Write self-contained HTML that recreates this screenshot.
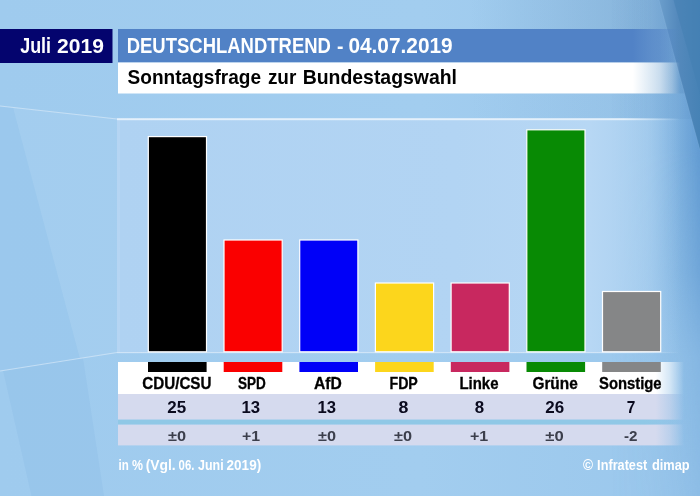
<!DOCTYPE html>
<html>
<head>
<meta charset="utf-8">
<title>DeutschlandTrend</title>
<style>
html,body{margin:0;padding:0;background:#9ecbee;}
body{width:700px;height:496px;overflow:hidden;font-family:"Liberation Sans",sans-serif;}
svg{display:block;}
text{font-family:"Liberation Sans",sans-serif;font-weight:bold;}
</style>
</head>
<body>
<svg width="700" height="496" viewBox="0 0 700 496">
  <defs>
    <linearGradient id="bg" x1="0" y1="0" x2="1" y2="0">
      <stop offset="0" stop-color="#9fcbee"/>
      <stop offset="0.6" stop-color="#a2cdef"/>
      <stop offset="1" stop-color="#9ac7ec"/>
    </linearGradient>
    <linearGradient id="panel" x1="0" y1="0" x2="1" y2="0">
      <stop offset="0" stop-color="#afd2f2"/>
      <stop offset="0.6" stop-color="#b2d4f3"/>
      <stop offset="0.84" stop-color="#b7d7f4"/>
      <stop offset="0.94" stop-color="#b5d6f3" stop-opacity="0.5"/>
      <stop offset="1" stop-color="#b3d5f3" stop-opacity="0"/>
    </linearGradient>
    <linearGradient id="hdr" gradientUnits="userSpaceOnUse" x1="118" y1="0" x2="680" y2="0">
      <stop offset="0" stop-color="#5182c6"/>
      <stop offset="0.916" stop-color="#5182c6"/>
      <stop offset="0.964" stop-color="#5182c6" stop-opacity="0.6"/>
      <stop offset="0.986" stop-color="#5182c6" stop-opacity="0.28"/>
      <stop offset="1" stop-color="#5182c6" stop-opacity="0"/>
    </linearGradient>
    <linearGradient id="wht" gradientUnits="userSpaceOnUse" x1="118" y1="0" x2="680" y2="0">
      <stop offset="0" stop-color="#ffffff"/>
      <stop offset="0.916" stop-color="#ffffff"/>
      <stop offset="0.964" stop-color="#ffffff" stop-opacity="0.6"/>
      <stop offset="0.986" stop-color="#ffffff" stop-opacity="0.28"/>
      <stop offset="1" stop-color="#ffffff" stop-opacity="0"/>
    </linearGradient>
    <linearGradient id="wht2" gradientUnits="userSpaceOnUse" x1="118" y1="0" x2="684" y2="0">
      <stop offset="0" stop-color="#ffffff"/>
      <stop offset="0.95" stop-color="#ffffff"/>
      <stop offset="0.975" stop-color="#ffffff" stop-opacity="0.6"/>
      <stop offset="1" stop-color="#ffffff" stop-opacity="0"/>
    </linearGradient>
    <linearGradient id="lav" gradientUnits="userSpaceOnUse" x1="118" y1="0" x2="684" y2="0">
      <stop offset="0" stop-color="#d5daee"/>
      <stop offset="0.95" stop-color="#d5daee"/>
      <stop offset="0.975" stop-color="#d5daee" stop-opacity="0.6"/>
      <stop offset="1" stop-color="#d5daee" stop-opacity="0"/>
    </linearGradient>
    <linearGradient id="line" gradientUnits="userSpaceOnUse" x1="118" y1="0" x2="680" y2="0">
      <stop offset="0" stop-color="#e4f0fb"/>
      <stop offset="0.9" stop-color="#e4f0fb"/>
      <stop offset="1" stop-color="#e4f0fb" stop-opacity="0"/>
    </linearGradient>
    <linearGradient id="topdark" gradientUnits="userSpaceOnUse" x1="470" y1="0" x2="670" y2="0">
      <stop offset="0" stop-color="#6290bb" stop-opacity="0"/>
      <stop offset="1" stop-color="#6290bb" stop-opacity="0.4"/>
    </linearGradient>
    <linearGradient id="rightdark" gradientUnits="userSpaceOnUse" x1="610" y1="0" x2="700" y2="0">
      <stop offset="0" stop-color="#3f80c2" stop-opacity="0"/>
      <stop offset="0.45" stop-color="#3f80c2" stop-opacity="0.12"/>
      <stop offset="0.75" stop-color="#3f80c2" stop-opacity="0.32"/>
      <stop offset="1" stop-color="#3f80c2" stop-opacity="0.62"/>
    </linearGradient>
    <linearGradient id="vm" x1="0" y1="0" x2="0" y2="1">
      <stop offset="0" stop-color="#fff"/>
      <stop offset="0.3" stop-color="#fff"/>
      <stop offset="0.55" stop-color="#c0c0c0"/>
      <stop offset="0.72" stop-color="#606060"/>
      <stop offset="1" stop-color="#383838"/>
    </linearGradient>
    <mask id="vmask" maskUnits="userSpaceOnUse" x="0" y="0" width="700" height="496">
      <rect x="0" y="0" width="700" height="496" fill="url(#vm)"/>
    </mask>
    <linearGradient id="wedge1" gradientUnits="userSpaceOnUse" x1="660" y1="0" x2="700" y2="0">
      <stop offset="0" stop-color="#6a9dcb"/>
      <stop offset="0.45" stop-color="#5489bc"/>
      <stop offset="1" stop-color="#4682b5"/>
    </linearGradient>
    <linearGradient id="gap" gradientUnits="userSpaceOnUse" x1="118" y1="0" x2="684" y2="0">
      <stop offset="0" stop-color="#90c8e6"/>
      <stop offset="0.93" stop-color="#90c8e6"/>
      <stop offset="1" stop-color="#90c8e6" stop-opacity="0"/>
    </linearGradient>
  </defs>

  <!-- background -->
  <rect x="0" y="0" width="700" height="496" fill="url(#bg)"/>
  <!-- subtle left streaks -->
  <polygon points="0,106 13,107.5 80,359 0,371" fill="#93c2ea" opacity="0.3"/>
  <polygon points="13,107.5 118,119 118,353 80,359" fill="#abd2f2" opacity="0.35"/>
  <polygon points="3,370.5 83,358 104,496 31.5,496" fill="#8dbee8" opacity="0.38"/>
  <!-- top band darker to right -->
  <rect x="0" y="0" width="700" height="93.5" fill="url(#topdark)"/>
  <rect x="0" y="93.5" width="700" height="25.5" fill="url(#topdark)" opacity="0.35"/>
  <!-- right darkening -->
  <rect x="560" y="0" width="140" height="496" fill="url(#rightdark)" mask="url(#vmask)"/>
  <!-- right dark wedge -->
  <polygon points="659,0 700,0 700,150" fill="url(#wedge1)"/>
  <polygon points="673.5,0 700,0 700,94" fill="#447fb3" opacity="0.55"/>
  <line x1="659" y1="0" x2="700" y2="150" stroke="#a9cdee" stroke-width="1" opacity="0.15"/>

  <!-- chart panel -->
  <rect x="117" y="119" width="563" height="234" fill="url(#panel)"/>
  <rect x="117" y="119" width="3" height="234" fill="#c2ddf5" opacity="0.3"/>
  <rect x="117" y="118.2" width="563" height="2" fill="url(#line)"/>
  <rect x="117" y="352" width="563" height="1.2" fill="url(#line)" opacity="0.6"/>
  <line x1="0" y1="106" x2="117" y2="119" stroke="#d6e8f8" stroke-width="1.2" opacity="0.7"/>
  <line x1="0" y1="371" x2="117" y2="352.5" stroke="#d6e8f8" stroke-width="1.2" opacity="0.7"/>

  <!-- header -->
  <rect x="0" y="29" width="112.5" height="34" fill="#04046e"/>
  <rect x="118" y="29" width="562" height="33.5" fill="url(#hdr)"/>
  <rect x="118" y="62.5" width="562" height="31" fill="url(#wht)"/>
  <!-- table -->
  <rect x="118" y="362" width="566" height="32" fill="url(#wht2)"/>
  <rect x="118" y="394" width="566" height="25.7" fill="url(#lav)"/>
  <rect x="118" y="424.4" width="566" height="21" fill="url(#lav)"/>

  <rect x="118" y="419.7" width="566" height="4.7" fill="url(#gap)"/>
  <!-- bars -->
  <g stroke="#fff" stroke-width="1.2">
    <rect x="148.3" y="136.6" width="58.2" height="215.2" fill="#000000"/>
    <rect x="224" y="240" width="58.2" height="111.8" fill="#fa0000"/>
    <rect x="299.7" y="240" width="58.2" height="111.8" fill="#0000f8"/>
    <rect x="375.4" y="283" width="58.2" height="68.8" fill="#fcd61c"/>
    <rect x="451.1" y="283" width="58.2" height="68.8" fill="#c8285f"/>
    <rect x="526.8" y="129.8" width="58.2" height="222" fill="#088a04"/>
    <rect x="602.5" y="291.5" width="58.2" height="60.3" fill="#858687"/>
  </g>
  <!-- small colour chips -->
  <rect x="148" y="362" width="58.6" height="10" fill="#000000"/>
  <rect x="223.7" y="362" width="58.6" height="10" fill="#fa0000"/>
  <rect x="299.4" y="362" width="58.6" height="10" fill="#0000f8"/>
  <rect x="375.1" y="362" width="58.6" height="10" fill="#fcd61c"/>
  <rect x="450.8" y="362" width="58.6" height="10" fill="#c8285f"/>
  <rect x="526.5" y="362" width="58.6" height="10" fill="#088a04"/>
  <rect x="602.2" y="362" width="58.6" height="10" fill="#858687"/>

  <g opacity="0.999">
  <text transform="translate(20.20,53.00) scale(0.8793,1.0467)" font-size="20.4" fill="#ffffff">Juli</text>
  <text transform="translate(57.10,53.20) scale(1.0329,1.0286)" font-size="20.4" fill="#ffffff">2019</text>
  <text transform="translate(126.69,53.20) scale(0.9057,1.0571)" font-size="20.4" fill="#ffffff">DEUTSCHLANDTREND</text>
  <text transform="translate(336.90,53.20) scale(0.9500,1.0000)" font-size="20.4" fill="#ffffff">-</text>
  <text transform="translate(348.40,53.20) scale(1.0225,1.0429)" font-size="20.4" fill="#ffffff">04.07.2019</text>
  <text transform="translate(127.60,84.40) scale(0.9392,1.0000)" font-size="20.3" fill="#000">Sonntagsfrage</text>
  <text transform="translate(267.90,84.40) scale(0.9335,1.0000)" font-size="20.3" fill="#000">zur</text>
  <text transform="translate(302.64,84.40) scale(0.9579,1.0000)" font-size="20.3" fill="#000">Bundestagswahl</text>
  <text transform="translate(142.20,389.30) scale(0.9886,1.0300)" font-size="15.4" fill="#000" stroke="#000" stroke-width="0.3">CDU/CSU</text>
  <text transform="translate(238.00,389.30) scale(0.8785,1.0300)" font-size="15.4" fill="#000" stroke="#000" stroke-width="0.3">SPD</text>
  <text transform="translate(313.90,389.30) scale(1.0169,1.0300)" font-size="15.4" fill="#000" stroke="#000" stroke-width="0.3">AfD</text>
  <text transform="translate(389.48,389.30) scale(0.9215,1.0300)" font-size="15.4" fill="#000" stroke="#000" stroke-width="0.3">FDP</text>
  <text transform="translate(459.43,389.30) scale(0.9713,1.0300)" font-size="15.4" fill="#000" stroke="#000" stroke-width="0.3">Linke</text>
  <text transform="translate(532.40,389.30) scale(1.0008,1.0300)" font-size="15.4" fill="#000" stroke="#000" stroke-width="0.3">Grüne</text>
  <text transform="translate(599.00,389.30) scale(0.9629,1.0300)" font-size="15.4" fill="#000" stroke="#000" stroke-width="0.3">Sonstige</text>
  <text transform="translate(167.20,413.30) scale(1.0615,1.0700)" font-size="16.0" fill="#0a0a1e">25</text>
  <text transform="translate(241.55,413.30) scale(1.0474,1.0700)" font-size="16.0" fill="#0a0a1e">13</text>
  <text transform="translate(317.46,413.30) scale(1.0415,1.0700)" font-size="16.0" fill="#0a0a1e">13</text>
  <text transform="translate(398.60,413.30) scale(1.1111,1.0700)" font-size="16.0" fill="#0a0a1e">8</text>
  <text transform="translate(474.70,413.30) scale(1.0556,1.0700)" font-size="16.0" fill="#0a0a1e">8</text>
  <text transform="translate(545.30,413.30) scale(1.0615,1.0700)" font-size="16.0" fill="#0a0a1e">26</text>
  <text transform="translate(626.70,413.30) scale(0.9667,1.0700)" font-size="16.0" fill="#0a0a1e">7</text>
  <text transform="translate(168.00,441.20) scale(1.0236,0.9600)" font-size="16.0" fill="#3c3f4c">±0</text>
  <text transform="translate(242.10,441.20) scale(0.9922,0.9600)" font-size="16.0" fill="#3c3f4c">+1</text>
  <text transform="translate(318.00,441.20) scale(1.0179,0.9600)" font-size="16.0" fill="#3c3f4c">±0</text>
  <text transform="translate(394.00,441.20) scale(1.0179,0.9600)" font-size="16.0" fill="#3c3f4c">±0</text>
  <text transform="translate(469.90,441.20) scale(1.0031,0.9600)" font-size="16.0" fill="#3c3f4c">+1</text>
  <text transform="translate(545.30,441.20) scale(1.0404,0.9600)" font-size="16.0" fill="#3c3f4c">±0</text>
  <text transform="translate(624.00,441.20) scale(0.9492,0.9600)" font-size="16.0" fill="#3c3f4c">-2</text>
  <text transform="translate(118.60,469.90) scale(0.8491,1.1000)" font-size="13.6" fill="#ffffff">in</text>
  <text transform="translate(132.00,469.90) scale(0.9083,1.1000)" font-size="13.6" fill="#ffffff">%</text>
  <text transform="translate(145.70,469.90) scale(1.0183,1.1000)" font-size="13.6" fill="#ffffff">(Vgl.</text>
  <text transform="translate(178.60,469.90) scale(0.8333,1.1000)" font-size="13.6" fill="#ffffff">06.</text>
  <text transform="translate(198.00,469.90) scale(0.9165,1.1000)" font-size="13.6" fill="#ffffff">Juni</text>
  <text transform="translate(226.60,469.90) scale(0.9930,1.1000)" font-size="13.6" fill="#ffffff">2019)</text>
  <text transform="translate(582.90,469.80) scale(1.0000,1.1000)" font-size="13.6" fill="#ffffff">©</text>
  <text transform="translate(597.10,469.80) scale(0.9352,1.1000)" font-size="13.6" fill="#ffffff">Infratest</text>
  <text transform="translate(652.00,469.80) scale(0.9414,1.1000)" font-size="13.6" fill="#ffffff">dimap</text>
  </g>
</svg>
</body>
</html>
